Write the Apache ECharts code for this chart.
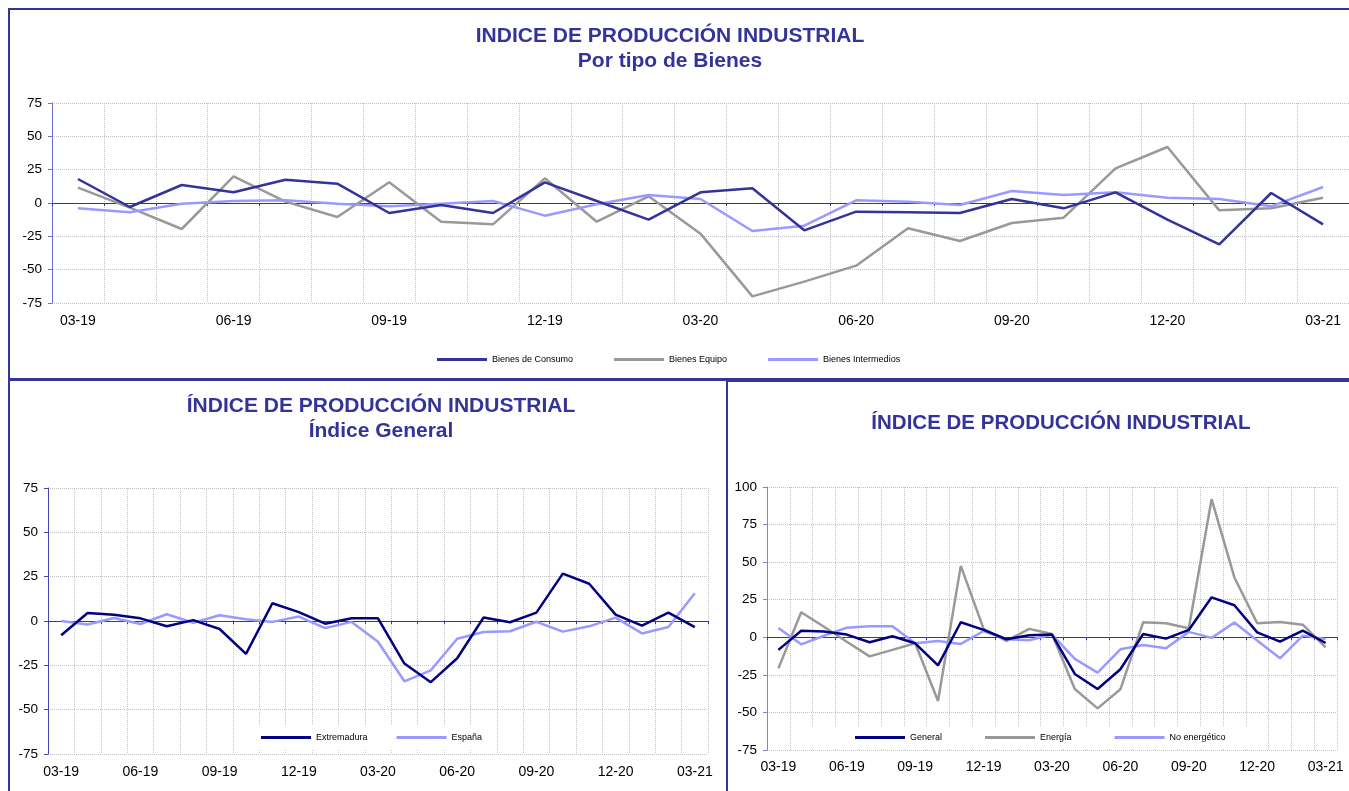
<!DOCTYPE html>
<html>

<head>
	<title>Indice de Produccion Industrial</title>
	<meta http-equiv="Content-Type" content="text/html; charset=utf-8" />
	<style>
		* {
			padding: 0;
			margin: 0;
		}

		body {
			background: #fff;
		}
	</style>
</head>

<body>
	<div id="main" style="width:1349px;height:791px;"></div>
</body>
<script src='https://cdn.jsdelivr.net/npm/echarts/dist/echarts.min.js' type='text/javascript'></script>
<script type="text/javascript">
	// meses (eje de categorias)
	var meses = ['03-19', '04-19', '05-19', '06-19', '07-19', '08-19', '09-19', '10-19', '11-19', '12-19',
		'01-20', '02-20', '03-20', '04-20', '05-20', '06-20', '07-20', '08-20', '09-20', '10-20',
		'11-20', '12-20', '01-21', '02-21', '03-21'];

	// grafico superior: por tipo de bienes
	var bienesConsumo = [18, -3, 13.5, 8, 17.5, 14.5, -7.5, -1.5, -7.5, 15.5, 1.5, -12.5, 8, 11, -20.5,
		-6.5, -7, -7.5, 3, -4, 8, -12.5, -31, 7.5, -16];
	var bienesEquipo = [11.5, -3.5, -19.5, 20, 1, -10.5, 15.5, -14, -16, 18.5, -14, 5, -23, -70, -59,
		-47, -19, -28.5, -15, -11, 26, 42, -5.5, -4, 4];
	var bienesIntermedios = [-4, -7, -0.5, 1.5, 2, -0.5, -2.5, -0.5, 1.5, -9.5, -1, 6, 3, -21, -17,
		2, 1, -1.5, 9, 6, 8, 4, 3, -2.5, 12];

	// grafico inferior izquierdo: indice general
	var extremadura = [-8, 4.5, 3.5, 1.5, -3, 0.5, -4.5, -18.5, 10, 5, -1.5, 1.5, 1.5, -24, -34.5,
		-21, 2, -0.7, 4.7, 26.7, 21, 3.6, -2.6, 4.7, -3.4];
	var espana = [0, -2, 1.7, -1.7, 3.8, -1, 3.2, 1, -0.5, 2.5, -4, -0.5, -11.7, -34, -27.8,
		-10, -6.2, -5.8, -0.4, -6, -3, 1.9, -7, -3.4, 15.6];

	// grafico inferior derecho
	var general = [-8.4, 4.4, 3.8, 1.8, -3.3, 0.7, -4, -18.7, 10, 4.9, -1.3, 1.3, 1.8, -24.4, -34.4,
		-21.3, 2.2, -0.9, 4.9, 26.6, 21.3, 3.3, -2.9, 4.4, -3.8];
	var energia = [-20.7, 16.7, 7, -3, -12.7, -8.4, -4, -42.4, 47.5, 5.6, -2.4, 5.6, 2.2, -34.4, -47.3,
		-34.6, 10, 9.3, 6, 91.9, 39.8, 9.3, 10.2, 8.4, -6.7];
	var noEnergetico = [6.2, -4.7, 1, 6.4, 7.3, 7.3, -4, -2.4, -4.4, 4.2, -1.3, -2, 1.8, -14.4, -23.5,
		-8, -5.1, -7.3, 3.6, -0.4, 9.8, -2.2, -14, 1.1, -1.1];

	var fuente = "'Liberation Sans', Arial, sans-serif";
	var azulTitulo = '#333399';
	var rejilla = {color: '#c4c4c4', type: 'dotted', width: 1};

	var chartDom = document.getElementById('main');
	var myChart = echarts.init(chartDom);
	var option;

	function ejeY(grid, max, colorLinea) {
		return {
			type: 'value',
			gridIndex: grid,
			min: -75,
			max: max,
			interval: 25,
			axisLine: {show: true, lineStyle: {color: colorLinea, width: 1}},
			axisTick: {show: true, length: 4, lineStyle: {color: colorLinea}},
			axisLabel: {color: '#000', fontSize: 13.5, fontFamily: fuente, margin: 10},
			splitLine: {show: true, lineStyle: rejilla}
		};
	}

	// eje x con etiquetas abajo (sin linea)
	function ejeXEtiquetas(grid, margen) {
		return {
			type: 'category',
			gridIndex: grid,
			position: 'bottom',
			data: meses,
			boundaryGap: true,
			axisLine: {show: false, onZero: false},
			axisTick: {show: false},
			axisLabel: {interval: 2, color: '#000', fontSize: 14, fontFamily: fuente, margin: margen},
			splitLine: {show: true, interval: 0, lineStyle: rejilla}
		};
	}

	// eje x sobre el cero (linea y marcas)
	function ejeXCero(grid, colorLinea) {
		return {
			type: 'category',
			gridIndex: grid,
			position: 'bottom',
			data: meses,
			boundaryGap: true,
			axisLine: {show: true, onZero: true, lineStyle: {color: colorLinea, width: 1}},
			axisTick: {show: true, interval: 0, length: 3, lineStyle: {color: colorLinea}},
			axisLabel: {show: false},
			splitLine: {show: false}
		};
	}

	function linea(nombre, datos, color, xIdx, yIdx) {
		return {
			name: nombre,
			type: 'line',
			xAxisIndex: xIdx,
			yAxisIndex: yIdx,
			data: datos,
			color: color,
			symbol: 'none',
			lineStyle: {color: color, width: 2.5},
			animation: false
		};
	}

	function leyenda(nombres, izq, arriba, pad, hueco, fondo) {
		return {
			data: nombres,
			left: izq,
			top: arriba,
			padding: pad,
			itemGap: hueco,
			itemWidth: 50,
			itemHeight: 3,
			icon: 'rect',
			backgroundColor: fondo,
			selectedMode: false,
			textStyle: {fontSize: 9, color: '#000', fontFamily: fuente}
		};
	}

	function titulo(texto, izq, arriba, tam) {
		return {
			text: texto,
			left: izq,
			top: arriba,
			padding: 0,
			textAlign: 'center',
			textStyle: {
				color: azulTitulo,
				fontSize: tam,
				fontWeight: 'bold',
				fontFamily: fuente,
				lineHeight: 25
			}
		};
	}

	function marco(x, y, w, h) {
		return {
			type: 'rect',
			z: 10,
			shape: {x: x, y: y, width: w, height: h},
			style: {fill: 'none', stroke: azulTitulo, lineWidth: 2}
		};
	}

	option = {
		backgroundColor: '#fff',
		animation: false,
		title: [
			titulo('INDICE DE PRODUCCIÓN INDUSTRIAL\nPor tipo de Bienes', 670, 24, 21),
			titulo('ÍNDICE DE PRODUCCIÓN INDUSTRIAL\nÍndice General', 381, 394, 21),
			titulo('ÍNDICE DE PRODUCCIÓN INDUSTRIAL', 1061, 411, 20.5)
		],
		graphic: [
			marco(9, 9, 1400, 370),
			marco(9, 380, 718, 500),
			marco(727, 381, 700, 500)
		],
		legend: [
			leyenda(['Bienes de Consumo', 'Bienes Equipo', 'Bienes Intermedios'], 437, 355, 0, 41, 'transparent'),
			leyenda(['Extremadura', 'España'], 258, 726, [7, 12, 7, 3], 29, '#fff'),
			leyenda(['General', 'Energía', 'No energético'], 795, 726, [7, 34, 7, 60], 43, '#fff')
		],
		grid: [
			{left: 52, top: 103, width: 1300, height: 200},
			{left: 48, top: 488, width: 660, height: 266},
			{left: 767, top: 487, width: 570, height: 263}
		],
		xAxis: [
			ejeXEtiquetas(0, 11),
			ejeXCero(0, '#333399'),
			ejeXEtiquetas(1, 11),
			ejeXCero(1, '#3333aa'),
			ejeXEtiquetas(2, 10),
			ejeXCero(2, '#3333aa')
		],
		yAxis: [
			ejeY(0, 75, '#7070d0'),
			ejeY(1, 75, '#4444aa'),
			ejeY(2, 100, '#8080e0')
		],
		series: [
			linea('Bienes Equipo', bienesEquipo, '#999999', 0, 0),
			linea('Bienes Intermedios', bienesIntermedios, '#9999ff', 0, 0),
			linea('Bienes de Consumo', bienesConsumo, '#333399', 0, 0),
			linea('España', espana, '#9999ff', 2, 1),
			linea('Extremadura', extremadura, '#000080', 2, 1),
			linea('Energía', energia, '#999999', 4, 2),
			linea('No energético', noEnergetico, '#9999ff', 4, 2),
			linea('General', general, '#000080', 4, 2)
		]
	};
	myChart.setOption(option);
</script>

</html>
